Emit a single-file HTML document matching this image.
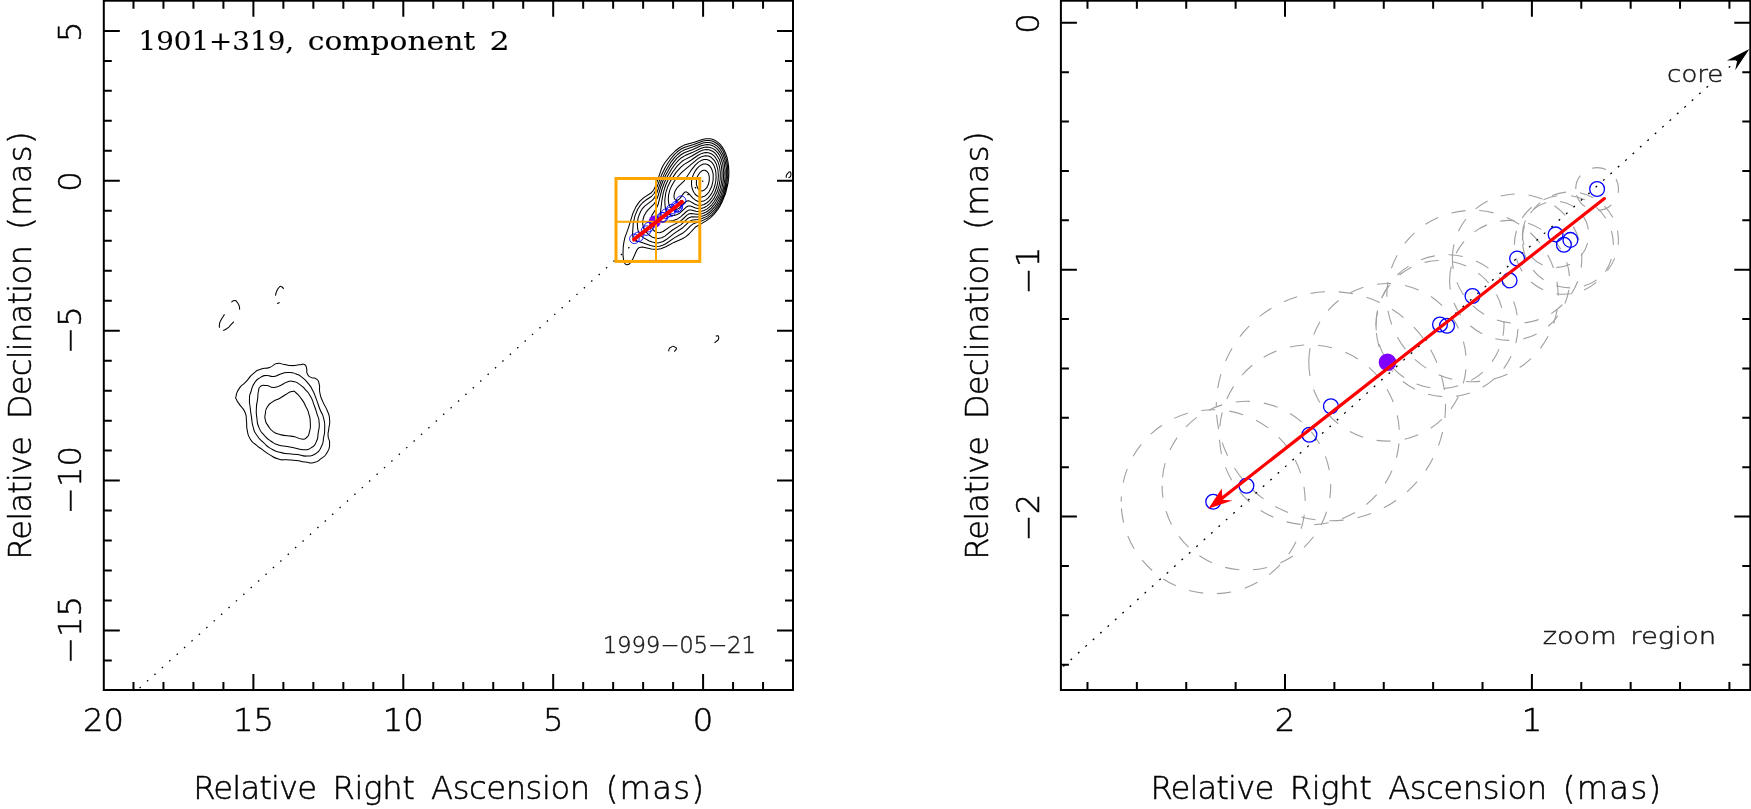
<!DOCTYPE html>
<html lang="en">
<head>
<meta charset="utf-8">
<title>1901+319, component 2</title>
<style>
html,body{margin:0;padding:0;background:#fff;overflow:hidden}
svg{display:block}
</style>
</head>
<body>
<svg width="1751" height="809" viewBox="0 0 1751 809" style="will-change:transform">
<rect width="1751" height="809" fill="#fff"/>
<g id="left-content">
<path d="M139.66 688L703.24 180.77" stroke="#000" stroke-width="1.3" stroke-dasharray="1.5 8.46" fill="none"/>
<path d="M628.2 264.6 626.7 264.8 625.4 264.1 624.4 262.8 623.7 261 623 255.1 623.2 247.1 623.9 242.1 624.9 237.6 628.5 227.6 632.7 213.8 636 206.6 639.7 201.4 643.8 197.6 651.4 192.7 653.7 190 655.9 185.2 661.5 168.8 663 165.7 665 162.5 670.1 156.2 675.2 151 679.7 147.5 684.2 145.1 694.3 142.3 702.2 139.6 705.8 138.8 708.9 138.7 711.6 139.1 714.3 140 717 141.6 719.5 143.7 721.8 146.4 724.1 150 725.7 153.5 727.2 158 728 162.1 728.6 166.6 728.9 172 728.7 177.8 728.1 182.8 725.8 192.7 722.1 202.1 720 206.1 717.3 210.2 713.9 214.4 710.3 217.9 705.8 221.1 695.9 226.7 689 234 685.6 236.9 682.4 238.8 673.9 242.4 665.8 246.8 660.8 248.7 656.4 249.4 651.4 249 642.4 247.1 640.6 247.2 638.8 247.8 637.7 248.9 636.6 250.5 633.4 257.8 631.6 261.2 629.8 263.5ZM659.3 246.2 655 246.4 650.5 245.6 639.7 241.8 634.8 240.4 633.5 239.4 632.9 237.2 632.6 233.6 633.2 223.7 635 215.6 637.7 209.3 640 205.7 642.8 202.5 645.6 200.3 651.4 196.5 654.1 193.5 655.9 190 661.5 175.1 665.2 167.5 667.9 163 671.1 158.5 674.1 154.9 677 152 680.6 149.3 684.7 147.2 693.7 144.5 703.1 141 706.2 140.5 708.9 140.5 712.1 141.1 714.8 142.2 717.5 144 719.5 145.9 721.6 148.6 723.5 151.7 726.1 158.9 727.6 167 727.7 176 726.6 185 724.1 194.5 720.4 203 717.7 207.5 714.7 211.5 711.6 214.8 708 217.7 702.7 220.6 694.6 223.2 692.8 224.1 690.5 225.8 685.6 230.8 682.4 233.3 674.3 237.9 665.8 243.7 662.6 245.2ZM659.9 242.6 657.7 242.9 655 242.7 652.3 242.1 649.2 241 643.3 237.6 641.1 235.6 639.5 233.6 638.4 231.3 637.7 229.1 637.3 223.2 638.2 217.4 640.6 211.5 642.4 208.7 644.7 206.2 652.2 200.3 654.6 197.6 656.8 193 661.6 179.6 665.6 171.1 671.3 161.6 674.5 157.6 677.5 154.5 681.1 151.6 684.7 149.7 693.4 146.8 703.1 143 706.2 142.5 708.9 142.5 711.6 143 714.3 144.2 716.6 145.7 718.8 147.8 720.8 150.4 722.6 153.5 724.9 159.8 726.4 167.9 726.4 176.9 725.3 185.5 722.7 194.9 719.2 202.5 716.7 206.6 713.9 210.2 710.7 213.4 707.6 215.9 704.4 217.6 701.3 218.8 698.2 219.5 692.8 220 690.5 220.8 688.5 222.3 682 228.3 673.9 233.6 666.7 239.3 663.1 241.5ZM658.2 238.5 655 238.1 651.9 236.9 648.7 234.7 646.1 232.2 644.3 229.5 643.2 226.8 642.7 223.7 642.9 220.1 644 216 646 212.4 648.2 209.7 653.7 204.4 655.9 201.2 657.7 197 660.6 187.3 662.9 181 665.9 174.7 669.7 167.9 673.7 162.1 677 158.1 680.6 155 684.2 152.8 693 149.5 700.4 146.1 704.4 144.9 707.1 144.6 709.4 144.8 712.1 145.5 714.3 146.6 716.6 148.3 718.5 150.4 720.4 153.1 721.8 155.8 724.1 162.5 725.1 170.6 724.9 179.2 723.6 187.3 720.9 195.8 717.3 203 714.8 206.6 712.1 209.7 709.4 212.3 706.7 214.2 703.5 215.7 700.4 216.6 697.3 216.9 691.9 216.8 689.5 217.4 687.5 218.7 681.1 224.6 672.5 230 664.9 236.1 661.7 237.8ZM659.7 232.7 657.7 232.6 655.9 232 654.1 230.8 652.5 229.1 651.1 226.8 650.4 224.6 650.1 222.3 650.4 219.6 652 215.1 656.4 208.2 658 204.8 661.9 189.5 664.3 182.8 667.3 176.5 671.8 168.8 675.2 164 678.4 160.4 681.5 157.7 685.1 155.6 692.2 152.6 700 148.7 703.5 147.4 706.2 147 708.9 147.2 711.6 147.9 713.9 149.1 715.7 150.5 717.7 152.6 719.5 155.3 720.8 158 722.8 164.3 723.7 172 723.4 179.6 721.9 188.2 719.4 195.4 715.9 202.1 713.7 205.2 711.2 208.1 708.5 210.5 705.8 212.3 702.7 213.6 699.5 214.2 696.4 214.2 691.4 213.5 689.2 213.8 687 215.1 682.4 219.5 679.3 221.9 670.4 226.4 663.1 231.5ZM666.6 221.4 663.5 221.9 661.7 221.7 660.4 220.5 660 219.2 660 216.5 661.9 200.3 663.3 192.7 665.5 185.5 668.6 178.7 672.7 172 677.5 165.6 682 161.3 684.7 159.6 691.4 156.3 699.5 151.5 703.1 150.1 706.7 149.6 709.8 150.1 713 151.5 714.8 152.9 716.6 154.9 719.5 159.8 721.4 166.1 722.1 172.9 721.8 180.5 720.4 187.7 717.9 194.9 714.4 201.2 712.1 204.3 709.4 207.1 706.7 209.1 704 210.5 701.3 211.3 698.6 211.6 695.9 211.2 691 210 688.7 210.1 686.5 211.5 680.6 216.9 677.5 218.9 673.4 220.4ZM675.9 215.1 673.9 215.5 672.1 215.5 670.3 215 668.5 214 667.1 212.5 666.3 211.1 665.1 206.6 664.8 200.3 665.7 193.1 667.8 186.4 671 180.1 676.1 172.4 681.1 166.8 683.8 164.6 691 160.2 697.7 155.5 701.8 153.4 705.3 152.5 708.5 152.7 711.6 153.9 714.9 156.7 717.7 161.2 719.5 166.6 720.3 172.4 720.2 179.2 719 185.9 717.2 191.8 714.4 197.6 712.3 200.7 709.8 203.6 707.1 205.9 704.4 207.5 701.3 208.5 698.2 208.6 695.5 208 690.5 206.1 688.3 206 686 207.3 679.7 213.2ZM675.3 209.7 672.5 209.2 670.3 207.2 668.8 203.9 668.3 199.9 668.5 195.4 669.7 190.4 671.6 185.9 674.3 181.3 677.9 176.5 682 172.2 698.6 158.2 702.2 156.4 705.3 155.7 708.5 156 711.2 157.3 714.2 160.3 716.4 164.3 717.8 169.3 718.4 175.1 718 181 716.8 186.8 714.7 192.7 711.9 197.6 709.4 200.6 706.7 203 704 204.5 701.3 205.3 699.1 205.4 696.8 204.9 694.6 204 689.6 201.1 688.3 200.8 686.9 201 685.1 202.2 679.3 208.1 677.5 209.1ZM701 201.6 698.2 201.4 695.5 200.2 692.9 198.1 688.3 193.1 686.5 191.9 685.1 192 684.2 192.6 679.7 198.6 678.4 199.8 677 200.4 675.7 200.2 674.6 199 674 197.2 674.1 194.9 674.8 191.8 676.6 188.5 678.4 186.3 684.2 180.8 691.2 170.2 695.2 165.2 698.2 162.4 700.9 160.6 704 159.5 706.7 159.5 708.9 160.2 711.1 161.6 712.7 163.4 714.2 166.1 715.3 169.3 715.9 172.9 716.1 176.9 715.8 181 715 185 713.7 189.1 712.3 192.2 710.3 195.4 708 198.1 705.8 199.9 703.5 201.1ZM701.4 197.2 699.5 197 697.3 196.1 695.4 194.5 693.8 192.2 692.5 189.5 691.7 186.4 691.5 183.7 691.6 180.5 692.3 177.4 693.5 174.2 695.2 171.1 697.1 168.4 699.1 166.4 701.3 164.9 703.5 164 705.8 163.9 707.6 164.5 709.4 165.7 710.7 167.3 711.8 169.3 712.7 172 713.2 174.7 713.1 180.5 711.6 186.8 708.9 192 707.1 194.2 705.3 195.7 703.5 196.6ZM702.1 190.9 700.9 190.8 699.5 190.2 697.6 188.2 696.4 184.6 696.4 180.5 697.4 176.5 699.5 172.9 702.2 170.7 703.5 170.2 704.9 170.2 707.1 171.5 708.6 173.8 709.3 176.9 709.2 181 708.3 184.6 706.7 187.7 704.4 190ZM236.1 396C237 392.3 235.9 393.3 239.1 388.6C242.3 383.9 241.1 386.8 245.8 381.9C250.5 376.9 248.2 377.9 253.2 373.7C258.1 369.5 255.2 371.4 260.6 369.3C266 367.2 264.1 369.4 269.5 367.5C274.9 365.6 272 364.6 276.9 363.6C281.9 362.7 279.4 363.9 284.3 364.5C289.3 365.2 286.8 365.5 291.7 365.6C296.7 365.7 295 365.2 299.2 364.8C303.4 364.5 301.9 363.3 304.4 364.5C306.8 365.8 305.6 365.5 306.6 368.5C307.6 371.6 305.8 370.8 307.3 373.7C308.8 376.7 308.1 375.7 311 377.4C314 379.2 313.5 376.7 316.2 378.9C318.9 381.1 318 379.4 319.2 384.1C320.4 388.8 318.7 387.1 319.9 393C321.2 398.9 320.4 396 322.9 401.9C325.4 407.8 325.1 404.9 327.3 410.8C329.6 416.7 329.1 413.8 329.6 419.7C330.1 425.6 329.3 423.2 328.8 428.6C328.3 434.1 327.8 431.1 328.1 436C328.3 441 329.8 438 329.6 443.4C329.3 448.9 330.1 447.4 327.3 452.3C324.6 457.3 325.9 454.9 321.4 458.3C317 461.6 319.4 461.2 314 462.4C308.6 463.7 311 462.6 305.1 462C299.2 461.3 302.1 461.2 296.2 460.5C290.3 459.8 293.2 460.3 287.3 459.8C281.4 459.3 284.3 460.8 278.4 459C272.5 457.3 274.9 457.8 269.5 454.6C264.1 451.4 266.5 452.6 262.1 449.4C257.6 446.2 260.1 448.4 256.1 444.9C252.2 441.5 253.2 443.9 250.2 439C247.2 434.1 248.5 436 247.2 430.1C246 424.2 247.2 427.1 246.5 421.2C245.8 415.3 247.2 417.7 245 412.3C242.8 406.9 242.7 409.1 239.8 404.9C237 400.7 237.8 402.7 236.6 399.7C235.3 396.7 235.3 399.7 236.1 396ZM249.5 398.9C249.7 393.5 249.2 397 251 391.5C252.7 386.1 251.5 387.3 254.7 382.6C257.9 377.9 256.6 379.8 260.6 377.4C264.6 375.1 262.1 375.9 266.5 375.5C271 375.2 269 377 273.9 376.4C278.9 375.8 276.4 375 281.4 373.7C286.3 372.4 283.8 372.4 288.8 372.5C293.7 372.6 291.7 372.4 296.2 374C300.6 375.7 298.2 374.3 302.1 377.4C306.1 380.6 304.6 379.2 308.1 383.4C311.5 387.6 309.8 384.9 312.5 390C315.2 395.2 313.8 392.5 316.2 398.9C318.7 405.4 317.5 402.9 319.9 409.3C322.4 415.8 322.1 411.8 323.6 418.2C325.2 424.7 324.7 422.2 324.7 428.6C324.7 435 324.7 431.6 323.6 437.5C322.6 443.4 324.1 441 321.4 446.4C318.7 451.9 320.4 450.6 315.5 453.8C310.5 457 312.5 455.8 306.6 456.1C300.6 456.3 303.6 455.3 297.7 454.6C291.7 453.8 294.7 454.6 288.8 453.8C282.8 453.1 285.8 454.1 279.9 452.3C273.9 450.6 276.4 451.9 271 448.6C265.5 445.4 268.3 447.2 263.6 442.7C258.9 438.3 260.4 440.5 256.9 435.3C253.4 430.1 255 433.3 253.2 427.1C251.4 421 252.4 423.2 251.4 416.7C250.4 410.3 250.9 413.8 250.2 407.8C249.6 401.9 249.2 404.4 249.5 398.9ZM257.6 398.9C258.3 393.5 257.4 395.7 258.4 391.5C259.4 387.3 257.9 388.3 260.6 386.3C263.3 384.4 262.1 385.3 266.5 385.6C271 385.9 269 387.6 273.9 387.4C278.9 387.1 276.9 386.7 281.4 384.9C285.8 383 283.3 383 287.3 381.9C291.3 380.8 289.3 380.7 293.2 381.4C297.2 382.2 295.2 381.5 299.2 384.1C303.1 386.7 301.4 385.4 305.1 389.3C308.8 393.3 307.3 390.8 310.3 396C313.3 401.2 311.8 398.9 314 404.9C316.2 410.8 315.2 407.8 317 413.8C318.7 419.7 318.8 416.3 319.2 422.7C319.6 429.1 319.1 426.6 318.2 433.1C317.2 439.5 318.6 437 316.2 442C313.9 446.9 315.2 445.3 311 447.9C306.8 450.5 309.1 449.7 303.6 449.7C298.2 449.7 300.2 449 294.7 447.9C289.3 446.8 292.7 447.4 287.3 446.4C281.9 445.4 283.8 446.7 278.4 444.9C273 443.2 275.7 444.4 271 441.2C266.3 438 268.3 439.7 264.3 435.3C260.4 430.8 261.6 433.6 259.1 427.9C256.6 422.2 257.8 424.9 256.9 418.2C256 411.6 256.2 414.3 256.4 407.8C256.7 401.4 257 404.4 257.6 398.9ZM265.3 413.8C266 409.6 264.9 411.1 267.3 407.1C269.6 403.2 268.3 404.9 272.5 401.9C276.7 398.9 275.4 400.7 279.9 398.2C284.3 395.7 281.9 396.7 285.8 394.5C289.8 392.3 288.3 392 291.7 391.5C295.2 391 293 390.5 296.2 393C299.4 395.5 298.2 394.5 301.4 398.9C304.6 403.4 303.4 401.4 305.8 406.4C308.3 411.3 307.3 408.3 308.8 413.8C310.3 419.2 310 416.7 310.3 422.7C310.5 428.6 310.8 426.6 309.5 431.6C308.3 436.5 309.3 435 306.6 437.5C303.9 440 305.3 439.2 301.4 439C297.4 438.8 299.4 437.9 294.7 436.8C290 435.7 292.2 436.5 287.3 435.7C282.4 435 284.6 435.9 279.9 434.5C275.2 433.2 277.2 434.5 273.2 431.6C269.3 428.6 270.6 429.6 268 425.6C265.4 421.7 266.2 423.7 265.3 419.7C264.5 415.8 264.7 418 265.3 413.8ZM668.7 351.4C668.9 350.5 668.4 350.2 669.3 348.8C670.2 347.4 670.1 347.9 671.3 347.1C672.5 346.3 671.8 346.3 673 346.3C674.2 346.3 673.8 346.3 674.9 347.1C676 347.9 676.6 347.1 676.4 348.6C676.2 350.1 675 350.6 674.3 351.6M715.8 336.3C716.4 336.1 716.7 335.6 717.6 335.8C718.5 336 718.3 335.7 718.6 336.9C718.9 338.1 719 337.9 718.4 339.3C717.8 340.7 718 340.1 716.7 341.2C715.4 342.3 715.2 342.2 714.5 342.7M786.3 177.8C786.4 176.9 785.9 176.8 786.5 175.2C787.1 173.6 787.1 174.2 788.2 173C789.3 171.8 788.9 171.7 789.8 171.7C790.7 171.7 790.5 171.7 790.8 173C791.1 174.3 791.1 174.2 790.8 175.6C790.5 177 790.6 176.4 789.8 177.1C789 177.8 788.9 177.6 788.4 177.8M224.5 314.4C223.3 316.3 222.7 316.7 221 320C219.3 323.3 220 321.7 219.5 324.3C219 326.9 219.5 326.6 219.5 327.8M223.2 330.6C224.6 329.8 224.9 330.2 227.5 328.2C230.1 326.2 228.9 326.9 231 324.7C233.1 322.5 232.9 322.7 233.8 321.7M231.4 302.2C232.5 301.6 232.8 300.3 234.8 300.5C236.8 300.7 235.9 300.8 237.4 302.7C238.9 304.6 238.5 303.8 239.2 306.1C239.9 308.4 239.5 308.4 239.6 309.6M275.5 295.6C275.9 294.1 275.6 293.7 276.8 291C278 288.3 277.6 289 279 287.5C280.4 286 279.5 286 281.1 286.4C282.7 286.8 282.8 288 283.7 288.8M277.2 303.7C278 303.3 278.8 302.9 279.6 302.5" fill="none" stroke="#000" stroke-width="1.05" stroke-linejoin="round"/>
<circle cx="654.7" cy="221.6" r="6.1" fill="#7f00ff"/>
<rect x="616" y="178.5" width="83.8" height="82.9" fill="none" stroke="#ffa500" stroke-width="3"/>
<path d="M656 178.5V261.4M616 221.8H699.8" stroke="#ffa500" stroke-width="2" fill="none"/>
<g fill="none" stroke="#0000ff" stroke-width="0.9">
<circle cx="681.09" cy="200.73" r="4.8"/>
<circle cx="676.05" cy="206.25" r="4.8"/>
<circle cx="677.84" cy="206.92" r="4.8"/>
<circle cx="677.05" cy="207.51" r="4.8"/>
<circle cx="671.37" cy="209.19" r="4.8"/>
<circle cx="670.45" cy="211.84" r="4.8"/>
<circle cx="665.94" cy="213.74" r="4.8"/>
<circle cx="662.84" cy="217.36" r="4.8"/>
<circle cx="661.99" cy="217.2" r="4.8"/>
<circle cx="648.73" cy="227.13" r="4.8"/>
<circle cx="646.12" cy="230.61" r="4.8"/>
<circle cx="638.46" cy="236.8" r="4.8"/>
<circle cx="634.42" cy="238.74" r="4.8"/>
</g>
<path d="M681.98 201.89L633.9 239.57" stroke="#ff0000" stroke-width="3.9" stroke-linecap="round" fill="none"/>
</g>
<path d="M253.4 690v-16M253.4 0.7v16M403.3 690v-16M403.3 0.7v16M553.2 690v-16M553.2 0.7v16M703.1 690v-16M703.1 0.7v16M763.06 690v-8M763.06 0.7v8M733.08 690v-8M733.08 0.7v8M673.12 690v-8M673.12 0.7v8M643.14 690v-8M643.14 0.7v8M613.16 690v-8M613.16 0.7v8M583.18 690v-8M583.18 0.7v8M523.22 690v-8M523.22 0.7v8M493.24 690v-8M493.24 0.7v8M463.26 690v-8M463.26 0.7v8M433.28 690v-8M433.28 0.7v8M373.32 690v-8M373.32 0.7v8M343.34 690v-8M343.34 0.7v8M313.36 690v-8M313.36 0.7v8M283.38 690v-8M283.38 0.7v8M223.42 690v-8M223.42 0.7v8M193.44 690v-8M193.44 0.7v8M163.46 690v-8M163.46 0.7v8M133.48 690v-8M133.48 0.7v8M103.8 30.9h16M793 30.9h-16M103.8 180.8h16M793 180.8h-16M103.8 330.7h16M793 330.7h-16M103.8 480.6h16M793 480.6h-16M103.8 630.5h16M793 630.5h-16M103.8 660.48h8M793 660.48h-8M103.8 600.52h8M793 600.52h-8M103.8 570.54h8M793 570.54h-8M103.8 540.56h8M793 540.56h-8M103.8 510.58h8M793 510.58h-8M103.8 450.62h8M793 450.62h-8M103.8 420.64h8M793 420.64h-8M103.8 390.66h8M793 390.66h-8M103.8 360.68h8M793 360.68h-8M103.8 300.72h8M793 300.72h-8M103.8 270.74h8M793 270.74h-8M103.8 240.76h8M793 240.76h-8M103.8 210.78h8M793 210.78h-8M103.8 150.82h8M793 150.82h-8M103.8 120.84h8M793 120.84h-8M103.8 90.86h8M793 90.86h-8M103.8 60.88h8M793 60.88h-8" stroke="#000" stroke-width="2" fill="none"/>
<rect x="103.8" y="0.7" width="689.2" height="689.3" stroke="#000" stroke-width="2" fill="none"/>
<text x="103.5" y="731.2" font-family="'DejaVu Sans Light','DejaVu Sans','Liberation Sans',sans-serif" font-size="32.2" text-anchor="middle" fill="#000" stroke="#000" stroke-width="0.5">20</text>
<text x="253.4" y="731.2" font-family="'DejaVu Sans Light','DejaVu Sans','Liberation Sans',sans-serif" font-size="32.2" text-anchor="middle" fill="#000" stroke="#000" stroke-width="0.5">15</text>
<text x="403.3" y="731.2" font-family="'DejaVu Sans Light','DejaVu Sans','Liberation Sans',sans-serif" font-size="32.2" text-anchor="middle" fill="#000" stroke="#000" stroke-width="0.5">10</text>
<text x="553.2" y="731.2" font-family="'DejaVu Sans Light','DejaVu Sans','Liberation Sans',sans-serif" font-size="32.2" text-anchor="middle" fill="#000" stroke="#000" stroke-width="0.5">5</text>
<text x="703.1" y="731.2" font-family="'DejaVu Sans Light','DejaVu Sans','Liberation Sans',sans-serif" font-size="32.2" text-anchor="middle" fill="#000" stroke="#000" stroke-width="0.5">0</text>
<text x="81.3" y="31.7" font-family="'DejaVu Sans Light','DejaVu Sans','Liberation Sans',sans-serif" font-size="32.2" text-anchor="middle" fill="#000" stroke="#000" stroke-width="0.5" transform="rotate(-90 81.3 31.7)">5</text>
<text x="81.3" y="181.6" font-family="'DejaVu Sans Light','DejaVu Sans','Liberation Sans',sans-serif" font-size="32.2" text-anchor="middle" fill="#000" stroke="#000" stroke-width="0.5" transform="rotate(-90 81.3 181.6)">0</text>
<text x="81.3" y="330.1" font-family="'DejaVu Sans Light','DejaVu Sans','Liberation Sans',sans-serif" font-size="32.2" text-anchor="middle" fill="#000" stroke="#000" stroke-width="0.5" transform="rotate(-90 81.3 330.1)">−5</text>
<text x="81.3" y="480" font-family="'DejaVu Sans Light','DejaVu Sans','Liberation Sans',sans-serif" font-size="32.2" text-anchor="middle" fill="#000" stroke="#000" stroke-width="0.5" transform="rotate(-90 81.3 480)">−10</text>
<text x="81.3" y="629.9" font-family="'DejaVu Sans Light','DejaVu Sans','Liberation Sans',sans-serif" font-size="32.2" text-anchor="middle" fill="#000" stroke="#000" stroke-width="0.5" transform="rotate(-90 81.3 629.9)">−15</text>
<text x="193.28" y="798.8" font-family="'DejaVu Sans Light','DejaVu Sans','Liberation Sans',sans-serif" font-size="32.2" fill="#000" stroke="#000" stroke-width="0.5" textLength="123.85" lengthAdjust="spacing">Relative</text>
<text x="332.58" y="798.8" font-family="'DejaVu Sans Light','DejaVu Sans','Liberation Sans',sans-serif" font-size="32.2" fill="#000" stroke="#000" stroke-width="0.5" textLength="82.26" lengthAdjust="spacing">Right</text>
<text x="431.08" y="798.8" font-family="'DejaVu Sans Light','DejaVu Sans','Liberation Sans',sans-serif" font-size="32.2" fill="#000" stroke="#000" stroke-width="0.5" textLength="159.04" lengthAdjust="spacing">Ascension</text>
<text x="605.64" y="798.8" font-family="'DejaVu Sans Light','DejaVu Sans','Liberation Sans',sans-serif" font-size="32.2" fill="#000" stroke="#000" stroke-width="0.5" textLength="98.35" lengthAdjust="spacing">(mas)</text>
<text x="30.7" y="559.72" font-family="'DejaVu Sans Light','DejaVu Sans','Liberation Sans',sans-serif" font-size="32.2" fill="#000" stroke="#000" stroke-width="0.5" textLength="123.85" lengthAdjust="spacing" transform="rotate(-90 30.7 559.72)">Relative</text>
<text x="30.7" y="419.17" font-family="'DejaVu Sans Light','DejaVu Sans','Liberation Sans',sans-serif" font-size="32.2" fill="#000" stroke="#000" stroke-width="0.5" textLength="173.99" lengthAdjust="spacing" transform="rotate(-90 30.7 419.17)">Declination</text>
<text x="30.7" y="229.86" font-family="'DejaVu Sans Light','DejaVu Sans','Liberation Sans',sans-serif" font-size="32.2" fill="#000" stroke="#000" stroke-width="0.5" textLength="98.35" lengthAdjust="spacing" transform="rotate(-90 30.7 229.86)">(mas)</text>
<text x="138.48" y="50.3" font-family="'DejaVu Serif','Liberation Serif',serif" font-size="26.3" fill="#000" stroke="#000" stroke-width="0.1" textLength="155.68" lengthAdjust="spacingAndGlyphs">1901+319,</text>
<text x="307.81" y="50.3" font-family="'DejaVu Serif','Liberation Serif',serif" font-size="26.3" fill="#000" stroke="#000" stroke-width="0.1" textLength="167.52" lengthAdjust="spacingAndGlyphs">component</text>
<text x="489.5" y="50.3" font-family="'DejaVu Serif','Liberation Serif',serif" font-size="26.3" fill="#000" stroke="#000" stroke-width="0.1" textLength="20.21" lengthAdjust="spacingAndGlyphs">2</text>
<text x="602.64" y="652.6" font-family="'DejaVu Sans Light','DejaVu Sans','Liberation Sans',sans-serif" font-size="22.8" fill="#1a1a1a" stroke="#1a1a1a" stroke-width="0.45" textLength="153.28" lengthAdjust="spacing">1999−05−21</text>
<g id="right-content">
<g fill="none" stroke="#a0a0a0" stroke-width="1.1" stroke-dasharray="14.3 13.95">
<path d="M1575.7 189A21.4 21.4 0 1 1 1618.5 189A21.4 21.4 0 1 1 1575.7 189"/>
<path d="M1522.4 234.4A33.2 33.2 0 1 1 1588.8 234.4A33.2 33.2 0 1 1 1522.4 234.4"/>
<path d="M1522.4 239.9A48 48 0 1 1 1618.4 239.9A48 48 0 1 1 1522.4 239.9"/>
<path d="M1514.4 244.8A49.5 49.5 0 1 1 1613.4 244.8A49.5 49.5 0 1 1 1514.4 244.8"/>
<path d="M1452.4 258.6A64.7 64.7 0 1 1 1581.8 258.6A64.7 64.7 0 1 1 1452.4 258.6"/>
<path d="M1449.6 280.4A60 60 0 1 1 1569.6 280.4A60 60 0 1 1 1449.6 280.4"/>
<path d="M1386.8 296A85.7 85.7 0 1 1 1558.2 296A85.7 85.7 0 1 1 1386.8 296"/>
<path d="M1376 325.8A71 71 0 1 1 1518 325.8A71 71 0 1 1 1376 325.8"/>
<path d="M1376 324.5A64 64 0 1 1 1504 324.5A64 64 0 1 1 1376 324.5"/>
<path d="M1308.8 362.3A78.7 78.7 0 1 1 1466.2 362.3A78.7 78.7 0 1 1 1308.8 362.3"/>
<path d="M1216.3 406.2A114.6 114.6 0 1 1 1445.5 406.2A114.6 114.6 0 1 1 1216.3 406.2" stroke-dashoffset="10.0"/>
<path d="M1219.4 434.8A90 90 0 1 1 1399.4 434.8A90 90 0 1 1 1219.4 434.8" stroke-dashoffset="19.75"/>
<path d="M1162.1 485.7A84.3 84.3 0 1 1 1330.7 485.7A84.3 84.3 0 1 1 1162.1 485.7" stroke-dashoffset="19.65"/>
<path d="M1121.2 501.7A92 92 0 1 1 1305.2 501.7A92 92 0 1 1 1121.2 501.7" stroke-dashoffset="9.0"/>
</g>
<path d="M1063.23 666.6L1751.91 46.62" stroke="#000" stroke-width="1.3" stroke-dasharray="1.9 8.05" fill="none"/>
<rect x="1664" y="62" width="62" height="23" fill="#fff"/>
<path d="M1749.4 48.9L1726.9 60.4L1737.3 60.3L1735.2 70.2Z" fill="#000"/>
<g fill="none" stroke="#0000ff" stroke-width="1.3">
<circle cx="1597.1" cy="189" r="7.4"/>
<circle cx="1555.6" cy="234.4" r="7.4"/>
<circle cx="1570.4" cy="239.9" r="7.4"/>
<circle cx="1563.9" cy="244.8" r="7.4"/>
<circle cx="1517.1" cy="258.6" r="7.4"/>
<circle cx="1509.6" cy="280.4" r="7.4"/>
<circle cx="1472.5" cy="296" r="7.4"/>
<circle cx="1447" cy="325.8" r="7.4"/>
<circle cx="1440" cy="324.5" r="7.4"/>
<circle cx="1330.9" cy="406.2" r="7.4"/>
<circle cx="1309.4" cy="434.8" r="7.4"/>
<circle cx="1246.4" cy="485.7" r="7.4"/>
<circle cx="1213.2" cy="501.7" r="7.4"/>
</g>
<circle cx="1387.5" cy="362.3" r="8.8" fill="#7f00ff"/>
<path d="M1604.4 198.6L1222 498.2" stroke="#ff0000" stroke-width="3.2" fill="none" stroke-linecap="round"/>
<path d="M1208.3 508.8L1221.7 488.5L1222.6 499.8L1232.3 500.6Z" fill="#ff0000"/>
</g>
<path d="M1285 690v-16M1285 0.7v16M1531.9 690v-16M1531.9 0.7v16M1729.42 690v-8M1729.42 0.7v8M1680.04 690v-8M1680.04 0.7v8M1630.66 690v-8M1630.66 0.7v8M1581.28 690v-8M1581.28 0.7v8M1482.52 690v-8M1482.52 0.7v8M1433.14 690v-8M1433.14 0.7v8M1383.76 690v-8M1383.76 0.7v8M1334.38 690v-8M1334.38 0.7v8M1235.62 690v-8M1235.62 0.7v8M1186.24 690v-8M1186.24 0.7v8M1136.86 690v-8M1136.86 0.7v8M1087.48 690v-8M1087.48 0.7v8M1060.9 22.8h16M1750.3 22.8h-16M1060.9 269.7h16M1750.3 269.7h-16M1060.9 516.6h16M1750.3 516.6h-16M1060.9 72.18h8M1750.3 72.18h-8M1060.9 121.56h8M1750.3 121.56h-8M1060.9 170.94h8M1750.3 170.94h-8M1060.9 220.32h8M1750.3 220.32h-8M1060.9 319.08h8M1750.3 319.08h-8M1060.9 368.46h8M1750.3 368.46h-8M1060.9 417.84h8M1750.3 417.84h-8M1060.9 467.22h8M1750.3 467.22h-8M1060.9 565.98h8M1750.3 565.98h-8M1060.9 615.36h8M1750.3 615.36h-8M1060.9 664.74h8M1750.3 664.74h-8" stroke="#000" stroke-width="2" fill="none"/>
<rect x="1060.9" y="0.7" width="689.4" height="689.3" stroke="#000" stroke-width="2" fill="none"/>
<text x="1285" y="731.2" font-family="'DejaVu Sans Light','DejaVu Sans','Liberation Sans',sans-serif" font-size="32.2" text-anchor="middle" fill="#000" stroke="#000" stroke-width="0.5">2</text>
<text x="1531.9" y="731.2" font-family="'DejaVu Sans Light','DejaVu Sans','Liberation Sans',sans-serif" font-size="32.2" text-anchor="middle" fill="#000" stroke="#000" stroke-width="0.5">1</text>
<text x="1038.6" y="23.6" font-family="'DejaVu Sans Light','DejaVu Sans','Liberation Sans',sans-serif" font-size="32.2" text-anchor="middle" fill="#000" stroke="#000" stroke-width="0.5" transform="rotate(-90 1038.6 23.6)">0</text>
<text x="1038.6" y="270.5" font-family="'DejaVu Sans Light','DejaVu Sans','Liberation Sans',sans-serif" font-size="32.2" text-anchor="middle" fill="#000" stroke="#000" stroke-width="0.5" transform="rotate(-90 1038.6 270.5)">−1</text>
<text x="1038.6" y="517.4" font-family="'DejaVu Sans Light','DejaVu Sans','Liberation Sans',sans-serif" font-size="32.2" text-anchor="middle" fill="#000" stroke="#000" stroke-width="0.5" transform="rotate(-90 1038.6 517.4)">−2</text>
<text x="1150.38" y="798.8" font-family="'DejaVu Sans Light','DejaVu Sans','Liberation Sans',sans-serif" font-size="32.2" fill="#000" stroke="#000" stroke-width="0.5" textLength="123.85" lengthAdjust="spacing">Relative</text>
<text x="1289.68" y="798.8" font-family="'DejaVu Sans Light','DejaVu Sans','Liberation Sans',sans-serif" font-size="32.2" fill="#000" stroke="#000" stroke-width="0.5" textLength="82.26" lengthAdjust="spacing">Right</text>
<text x="1388.18" y="798.8" font-family="'DejaVu Sans Light','DejaVu Sans','Liberation Sans',sans-serif" font-size="32.2" fill="#000" stroke="#000" stroke-width="0.5" textLength="159.04" lengthAdjust="spacing">Ascension</text>
<text x="1562.74" y="798.8" font-family="'DejaVu Sans Light','DejaVu Sans','Liberation Sans',sans-serif" font-size="32.2" fill="#000" stroke="#000" stroke-width="0.5" textLength="98.35" lengthAdjust="spacing">(mas)</text>
<text x="988.3" y="559.72" font-family="'DejaVu Sans Light','DejaVu Sans','Liberation Sans',sans-serif" font-size="32.2" fill="#000" stroke="#000" stroke-width="0.5" textLength="123.85" lengthAdjust="spacing" transform="rotate(-90 988.3 559.72)">Relative</text>
<text x="988.3" y="419.17" font-family="'DejaVu Sans Light','DejaVu Sans','Liberation Sans',sans-serif" font-size="32.2" fill="#000" stroke="#000" stroke-width="0.5" textLength="173.99" lengthAdjust="spacing" transform="rotate(-90 988.3 419.17)">Declination</text>
<text x="988.3" y="229.86" font-family="'DejaVu Sans Light','DejaVu Sans','Liberation Sans',sans-serif" font-size="32.2" fill="#000" stroke="#000" stroke-width="0.5" textLength="98.35" lengthAdjust="spacing" transform="rotate(-90 988.3 229.86)">(mas)</text>
<text x="1542.66" y="644.3" font-family="'DejaVu Sans Light','DejaVu Sans','Liberation Sans',sans-serif" font-size="22.8" fill="#1a1a1a" stroke="#1a1a1a" stroke-width="0.45" textLength="74.1" lengthAdjust="spacingAndGlyphs">zoom</text>
<text x="1630.27" y="644.3" font-family="'DejaVu Sans Light','DejaVu Sans','Liberation Sans',sans-serif" font-size="22.8" fill="#1a1a1a" stroke="#1a1a1a" stroke-width="0.45" textLength="85.87" lengthAdjust="spacingAndGlyphs">region</text>
<text x="1667.11" y="81.9" font-family="'DejaVu Sans Light','DejaVu Sans','Liberation Sans',sans-serif" font-size="22.8" fill="#1a1a1a" stroke="#1a1a1a" stroke-width="0.45" textLength="56.25" lengthAdjust="spacingAndGlyphs">core</text>
</svg>
</body>
</html>
